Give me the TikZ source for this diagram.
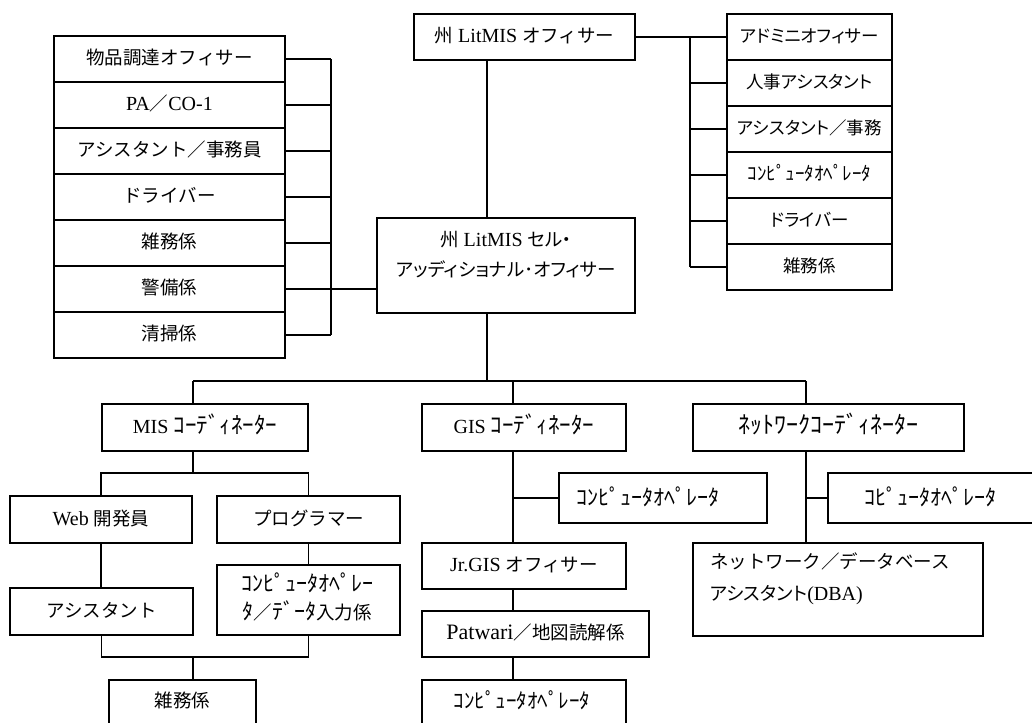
\documentclass[tikz,border=0pt]{standalone}
\usepackage{fontspec}
\setmainfont{Liberation Serif}
\newfontfamily\jp{Noto Sans CJK JP}
\newfontfamily\jpp[RawFeature=+palt]{Noto Sans CJK JP}
\newcommand\J[1]{{\fontsize{18.5}{24}\selectfont\jp #1}}
\newcommand\JP[2]{{\fontsize{#1}{24}\selectfont\jpp #2}}
\newcommand\HW[2]{{\fontsize{#1}{24}\selectfont\jp #2}}
\begin{document}
\begin{tikzpicture}[x=1pt,y=-1pt,
  every node/.style={font=\fontsize{20}{24}\selectfont},
  box/.style={draw, line width=1.9pt, rectangle, inner sep=0pt, align=center, text height=15pt, text depth=4pt},
  ebox/.style={draw, line width=1.9pt, rectangle, inner sep=0pt},
  txt/.style={inner sep=0pt},
  conn/.style={line width=1.9pt}]
\useasboundingbox (0,0) rectangle (1032,722);
\clip (0,0) rectangle (1032,722);
% left column
\node[box, minimum width=231pt, minimum height=46pt] (L1) at (169.5,59) {\J{物品調達オフィサー}};
\node[box, minimum width=231pt, minimum height=46pt] (L2) at (169.5,105) {PA\J{／}CO-1};
\node[box, minimum width=231pt, minimum height=46pt] (L3) at (169.5,151) {\J{アシスタント／事務員}};
\node[box, minimum width=231pt, minimum height=46pt] (L4) at (169.5,197) {\J{ドライバー}};
\node[box, minimum width=231pt, minimum height=46pt] (L5) at (169.5,243) {\J{雑務係}};
\node[box, minimum width=231pt, minimum height=46pt] (L6) at (169.5,289) {\J{警備係}};
\node[box, minimum width=231pt, minimum height=46pt] (L7) at (169.5,335) {\J{清掃係}};
% top and centre
\node[box, minimum width=221pt, minimum height=46pt] (T) at (524.5,37) {\J{州} LitMIS \J{オフィサー}};
\node[ebox, minimum width=258pt, minimum height=95pt] (C) at (506,265.5) {};
\node[txt, align=center, font=\fontsize{20}{30}\selectfont] (Ct) at (506,255) {\J{州} LitMIS \JP{18.5}{セル・}\\\JP{18.5}{アッディショナル･オフィサー}};
% right column
\node[box, minimum width=165pt, minimum height=46pt] (R1) at (809.5,37) {\JP{17.5}{アドミニオフィサー}};
\node[box, minimum width=165pt, minimum height=46pt] (R2) at (809.5,83) {\JP{17.5}{人事アシスタント}};
\node[box, minimum width=165pt, minimum height=46pt] (R3) at (809.5,129) {\JP{17.5}{アシスタント／事務}};
\node[box, minimum width=165pt, minimum height=46pt] (R4) at (809.5,175) {\HW{19}{ｺﾝﾋﾟｭｰﾀｵﾍﾟﾚｰﾀ}};
\node[box, minimum width=165pt, minimum height=46pt] (R5) at (809.5,221) {\JP{17.5}{ドライバー}};
\node[box, minimum width=165pt, minimum height=46pt] (R6) at (809.5,267) {\JP{17.5}{雑務係}};
% coordinators
\node[box, minimum width=206pt, minimum height=47pt] (M) at (205,427.5) {MIS \HW{23}{ｺｰﾃﾞｨﾈｰﾀｰ}};
\node[box, minimum width=204pt, minimum height=47pt] (G) at (524,427.5) {GIS \HW{23}{ｺｰﾃﾞｨﾈｰﾀｰ}};
\node[box, minimum width=271pt, minimum height=47pt] (N) at (828.5,427.5) {\HW{24}{ﾈｯﾄﾜｰｸｺｰﾃﾞｨﾈｰﾀｰ}};
% MIS subtree
\node[box, minimum width=182pt, minimum height=47pt] (W) at (101,519.5) {Web \J{開発員}};
\node[box, minimum width=183pt, minimum height=47pt] (P) at (308.5,519.5) {\J{プログラマー}};
\node[box, minimum width=183pt, minimum height=47pt] (A) at (101.5,611.5) {\J{アシスタント}};
\node[ebox, minimum width=183pt, minimum height=70pt] (CO) at (308.5,600) {};
\node[txt, align=center, font=\fontsize{20}{28}\selectfont] (COt) at (307,597) {\HW{22}{ｺﾝﾋﾟｭｰﾀｵﾍﾟﾚｰ}\\\HW{22}{ﾀ}\J{／}\HW{22}{ﾃﾞｰﾀ}\J{入力係}};
\node[ebox, minimum width=147pt, minimum height=70pt] (Z) at (182.5,715) {};
\node[txt] (Zt) at (182.5,700) {\J{雑務係}};
% GIS subtree
\node[ebox, minimum width=208pt, minimum height=50pt] (GC) at (663,498) {};
\node[txt] (GCt) at (648,497) {\HW{22}{ｺﾝﾋﾟｭｰﾀｵﾍﾟﾚｰﾀ}};
\node[box, minimum width=204pt, minimum height=46pt] (J) at (524,566) {Jr.GIS \J{オフィサー}};
\node[box, minimum width=227pt, minimum height=46pt] (PW) at (535.5,634) {{\fontsize{22}{24}\selectfont Patwari}\J{／地図読解係}};
\node[ebox, minimum width=204pt, minimum height=70pt] (GB) at (524,715) {};
\node[txt] (GBt) at (522,700) {\HW{21}{ｺﾝﾋﾟｭｰﾀｵﾍﾟﾚｰﾀ}};
% network subtree
\node[ebox, minimum width=217pt, minimum height=50pt] (NC) at (936.5,498) {};
\node[txt] (NCt) at (930,497) {\HW{22}{ｺﾋﾟｭｰﾀｵﾍﾟﾚｰﾀ}};
\node[ebox, minimum width=290pt, minimum height=93pt] (D) at (838,589.5) {};
\node[txt, align=left, anchor=west, font=\fontsize{20}{32}\selectfont] (Dt) at (710,579) {\J{ネットワーク／データベース}\\\JP{18.5}{アシスタント}(DBA)};
% connectors: left group
\coordinate (lb) at (331,0);
\foreach \n in {L1,L2,L3,L4,L5,L6,L7} {\draw[conn] (\n.east) -- (\n.east -| lb);}
\draw[conn] (L1.east -| lb) -- (L7.east -| lb);
\draw[conn] (L6.east -| lb) -- (L6.east -| C.west);
% top to centre to bus
\coordinate (tc) at (487,0);
\coordinate (busY) at (0,381);
\draw[conn] (T.south -| tc) -- (C.north -| tc);
\draw[conn] (C.south -| tc) -- (tc |- busY);
% right group
\coordinate (rb) at (690,0);
\draw[conn] (T.east) -- (R1.west);
\draw[conn] (R1.west -| rb) -- (R6.west -| rb);
\foreach \n in {R2,R3,R4,R5,R6} {\draw[conn] (\n.west -| rb) -- (\n.west);}
% main bus
\coordinate (mx) at (193,0);
\coordinate (gx) at (513,0);
\coordinate (nx) at (806,0);
\draw[conn] (mx |- busY) -- (nx |- busY);
\draw[conn] (mx |- busY) -- (M.north -| mx);
\draw[conn] (gx |- busY) -- (G.north -| gx);
\draw[conn] (nx |- busY) -- (N.north -| nx);
% MIS
\coordinate (my) at (0,473);
\coordinate (my2) at (0,657);
\draw[conn] (M.south -| mx) -- (mx |- my);
\draw[conn] (W.north) -- (W.north |- my) -- (P.north |- my) -- (P.north);
\draw[conn] (W.south) -- (W.south |- A.north);
\draw[conn] (P.south) -- (P.south |- CO.north);
\draw[conn] (A.south) -- (A.south |- my2) -- (CO.south |- my2) -- (CO.south);
\draw[conn] (mx |- my2) -- (Z.north -| mx);
% GIS
\draw[conn] (G.south -| gx) -- (J.north -| gx);
\draw[conn] (GC.west -| gx) -- (GC.west);
\draw[conn] (J.south -| gx) -- (PW.north -| gx);
\draw[conn] (PW.south -| gx) -- (GB.north -| gx);
% network
\draw[conn] (N.south -| nx) -- (D.north -| nx);
\draw[conn] (NC.west -| nx) -- (NC.west);
\end{tikzpicture}
\end{document}
